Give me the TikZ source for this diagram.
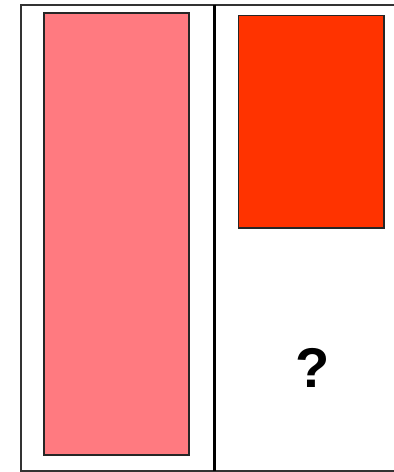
\documentclass[tikz,border=0pt]{standalone}
\usepackage{fontspec}
\setmainfont{Liberation Sans}
\usetikzlibrary{positioning}
\definecolor{pinkbar}{RGB}{255,122,128}
\definecolor{redbar}{RGB}{255,51,0}
\tikzstyle{frame}   = [draw=black!80, line width=1.5pt]
\tikzstyle{divider} = [draw=black, line width=3pt]
\tikzstyle{bar}     = [rectangle, draw=black!85, line width=1.3pt, inner sep=0pt]

\begin{document}
\begin{tikzpicture}[x=1pt, y=1pt]
    \useasboundingbox (0,0) rectangle (394,472);
    % Frame (open on the right)
    \coordinate (tr) at (396,467);
    \coordinate (tl) at (21,467);
    \coordinate (bl) at (21,1);
    \coordinate (br) at (396,1);
    \draw[frame] (tr) -- (tl) -- (bl) -- (br);

    % Divider
    \coordinate (dtop) at (214.5,467);
    \coordinate (dbot) at (214.5,1);
    \draw[divider] (dtop) -- (dbot);

    % Bars
    \node (tall) [bar, fill=pinkbar, minimum width=145pt, minimum height=442pt] at (116.5,238) {};
    \node (short) [bar, fill=redbar, minimum width=145.3pt, minimum height=212.5pt] at (311.3,350.2) {};

    % Unknown
    \node (ask) at (313,104) {\fontsize{56}{60}\selectfont\bfseries ?};
\end{tikzpicture}
\end{document}
